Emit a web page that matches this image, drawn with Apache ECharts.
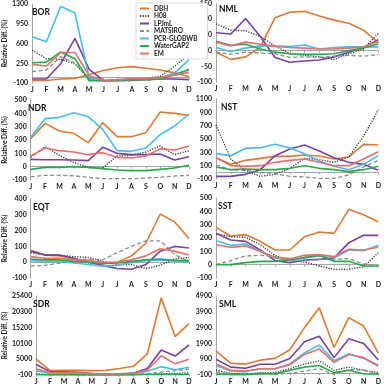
<!DOCTYPE html>
<html>
<head>
<meta charset="utf-8">
<script src="https://cdn.jsdelivr.net/npm/echarts@6/dist/echarts.min.js"></script>
<style>html,body{margin:0;padding:0;background:#fff}#c{width:384px;height:385px}</style>
</head>
<body>
<div id="c"></div>
<script>
const months = ['J','F','M','A','M','J','J','A','S','O','N','D'];
const models = ['DBH','H08','LPJmL','MATSIRO','PCR-GLOBWB','WaterGAP2','EM'];
const panels = ['BOR','NML','NDR','NST','EQT','SST','SDR','SML'];

// y-axis tick labels per panel
const ticksBOR = [-100,250,600,950,1300];
const ticksNML = [-100,-50,0,50,100,150];
const ticksNDR = [-100,0,100,200,300,400,500];
const ticksNST = [-100,100,300,500,700,900,1100];
const ticksEQT = [-100,0,100,200,300,400];
const ticksSST = [-100,0,100,200,300,400,500];
const ticksSDR = [-100,5000,10100,15200,20300,25400];
const ticksSML = [-100,900,1900,2900,3900,4900];

// values per panel, rows in model order: DBH, H08, LPJmL, MATSIRO, PCR-GLOBWB, WaterGAP2, EM
const BOR = [
  [-55,-55,-30,-20,50,120,170,190,160,130,80,10],
  [480,330,320,240,-30,-50,-40,-30,-20,20,200,400],
  [-30,-30,240,690,140,-60,-60,-50,-40,-30,-30,-40],
  [100,130,370,250,-40,-70,-60,-60,-50,-20,50,130],
  [720,630,1260,1140,-10,-60,-50,-30,-20,-10,80,310],
  [260,270,450,330,-60,-60,-50,-40,-40,-30,50,140],
  [230,200,440,440,30,-50,-40,-20,-20,0,40,90]
];
const NML = [
  [-5,-28,-20,10,105,122,125,110,97,87,65,25],
  [85,65,63,45,15,-10,-15,-20,-28,-10,5,55],
  [57,53,102,45,-22,-37,-33,-30,-20,-5,10,35],
  [-5,-12,-5,-8,-10,-22,-20,-22,-18,-15,-18,-12],
  [10,-3,8,15,15,13,18,5,10,12,12,12],
  [30,17,20,5,-5,-10,-12,-12,-10,0,8,22],
  [27,15,27,20,13,10,8,5,5,8,12,30]
];
const NDR = [
  [210,325,268,250,180,330,225,225,255,410,400,385],
  [70,150,85,30,-5,-10,80,85,110,155,90,120],
  [55,52,52,50,45,145,100,90,90,95,50,75],
  [-75,-65,-65,-68,-80,-90,-90,-90,-85,-80,-70,-65],
  [220,360,370,405,375,280,120,115,140,240,305,395],
  [-20,-5,-5,0,-5,-15,-25,-30,-30,-20,-10,10],
  [80,140,120,110,90,105,70,65,80,135,125,155]
];
const NST = [
  [220,120,180,210,240,240,260,245,200,230,420,410],
  [710,200,30,-60,-30,60,210,190,150,230,540,940],
  [-60,-60,-30,40,250,350,410,320,220,150,120,30],
  [110,40,30,0,-20,-60,-70,-90,-90,-40,80,180],
  [280,250,360,370,420,370,280,170,90,40,120,250],
  [80,40,50,40,40,60,100,60,40,10,40,90],
  [220,100,90,100,150,180,200,150,100,100,200,310]
];
const EQT = [
  [75,45,40,20,10,-5,0,40,120,305,255,150],
  [60,45,45,35,30,5,-15,-15,-40,-20,20,30],
  [70,45,45,25,0,-20,-40,-45,-15,70,100,90],
  [-25,-20,-5,10,20,15,60,100,135,135,50,0],
  [10,5,5,-5,-15,-25,-20,0,10,15,10,5],
  [20,15,15,5,0,-10,-5,5,15,20,10,10],
  [35,25,25,15,10,0,0,15,40,85,70,45]
];
const SST = [
  [280,215,225,175,110,110,210,245,235,415,375,320],
  [230,210,205,150,70,30,20,-10,-35,-35,-15,90],
  [235,185,175,110,30,15,35,40,50,165,220,220],
  [0,30,65,70,60,40,30,40,40,45,5,-15],
  [180,145,155,100,50,30,50,65,50,110,105,145],
  [0,0,15,25,25,35,55,70,25,25,-10,-10],
  [150,130,140,100,55,45,70,75,60,115,110,130]
];
const SDR = [
  [5000,1300,1400,1400,1300,1400,2000,2700,6700,24800,12300,16500],
  [300,0,100,0,-50,-100,-50,0,200,300,400,600],
  [3300,1000,900,800,400,200,300,500,2000,8000,6000,9600],
  [100,0,0,0,-50,-50,0,100,300,800,1300,1800],
  [1300,400,400,300,100,0,100,200,1100,2600,1600,2400],
  [0,-50,-50,-50,-50,-50,-50,-50,50,150,100,150],
  [1800,750,700,600,400,200,300,400,1500,6100,3500,5000]
];
const SML = [
  [1430,640,590,840,950,1500,2900,4150,1640,3530,3000,1290],
  [200,0,-50,50,50,300,600,800,200,400,200,50],
  [900,400,330,580,580,950,2000,2350,1000,2200,1900,850],
  [100,-50,-80,-50,-50,0,150,300,-50,250,200,0],
  [500,150,100,300,300,600,1300,1800,800,1250,950,450],
  [-50,-80,-80,0,-30,200,400,500,50,200,-20,-50],
  [600,200,150,300,300,550,1200,1550,700,1200,1000,500]
];

const panelData = [BOR,NML,NDR,NST,EQT,SST,SDR,SML];
const panelTicks = [ticksBOR,ticksNML,ticksNDR,ticksNST,ticksEQT,ticksSST,ticksSDR,ticksSML];

const colors = ['#E8772E','#3A3A3A','#7B3FA8','#8A8A8A','#3EC1F0','#1DB04A','#F26B6B'];
const lineTypes = ['solid',[1.2,1.4],'solid',[4,2.5],'solid','solid','solid'];
const lineWidths = [1.6,1.4,1.6,1.3,1.6,1.6,1.6];

const gridBoxes = [
  {left:27, top:4, width:162, height:79},
  {left:216, top:3, width:165, height:79},
  {left:26, top:100, width:163, height:80},
  {left:216, top:99, width:165, height:80},
  {left:29, top:199, width:160, height:79},
  {left:216, top:198, width:165, height:80},
  {left:29, top:296, width:160, height:80},
  {left:216, top:296, width:165, height:80}
];
const titlePos = [[32,8],[219,5],[28,104],[221,103],[33,203],[218,202],[33,300],[219,300]];

const FONT = 'Lato, "Liberation Sans", sans-serif';
const grid = [], xAxis = [], yAxis = [], series = [], title = [];

panels.forEach((p, g) => {
  grid.push(Object.assign({containLabel:false}, gridBoxes[g]));
  const t = panelTicks[g];
  const isLeft = g % 2 === 0;
  // bottom label axis
  xAxis.push({
    type:'category', gridIndex:g, data:months, boundaryGap:false, position:'bottom',
    axisLine:{show:false, onZero:false}, axisTick:{show:false},
    axisLabel:{fontSize:7, fontWeight:'bold', color:'#222', fontFamily:FONT, margin:3, interval:0},
    splitLine:{show:false}
  });
  // zero line axis
  xAxis.push({
    type:'category', gridIndex:g, data:months, boundaryGap:false, position:'bottom',
    axisLine:{show:true, onZero:true, lineStyle:{color:'#A6A6A6', width:1}},
    axisTick:{show:true, length:2, interval:0, lineStyle:{color:'#A6A6A6'}},
    axisLabel:{show:false}, splitLine:{show:false}
  });
  yAxis.push({
    type:'value', gridIndex:g, min:t[0], max:t[t.length-1],
    axisLine:{show:true, lineStyle:{color:'#A6A6A6', width:1}},
    axisTick:{show:false},
    splitLine:{show:false},
    axisLabel:{customValues:t, formatter: v => String(v), fontSize:7, fontWeight:'bold', color:'#222', fontFamily:FONT, margin:4},
    name: isLeft ? 'Relative Diff. (%)' : '',
    nameLocation:'middle', nameRotate:90,
    nameGap: gridBoxes[g].left - 9,
    nameTextStyle:{fontSize:6.5, fontWeight:'bold', color:'#222', fontFamily:FONT}
  });
  title.push({
    text:p, left:titlePos[g][0], top:titlePos[g][1], padding:0,
    textStyle:{fontSize:8.5, fontWeight:'bold', color:'#111', fontFamily:FONT}
  });
  panelData[g].forEach((vals, m) => {
    series.push({
      name: models[m], type:'line', xAxisIndex:2*g, yAxisIndex:g,
      data: vals, showSymbol:false, symbol:'none', animation:false,
      lineStyle:{color:colors[m], width:lineWidths[m], type:lineTypes[m]},
      itemStyle:{color:colors[m]}, z: 2 + m
    });
  });
});

const chart = echarts.init(document.getElementById('c'), null, {renderer:'canvas'});
chart.setOption({
  animation:false,
  backgroundColor:'#fff',
  title,
  grid, xAxis, yAxis, series,
  legend:{
    data:models, orient:'vertical', left:136, top:3,
    itemWidth:9, itemHeight:5, itemGap:0.5,
    padding:[2,10,2,3],
    itemStyle:{opacity:0},
    backgroundColor:'#fff', borderColor:'#D0D0D0', borderWidth:0.8,
    textStyle:{fontSize:6.5, fontWeight:'bold', color:'#222', fontFamily:FONT, lineHeight:7},
    z: 20
  }
});
</script>
</body>
</html>
